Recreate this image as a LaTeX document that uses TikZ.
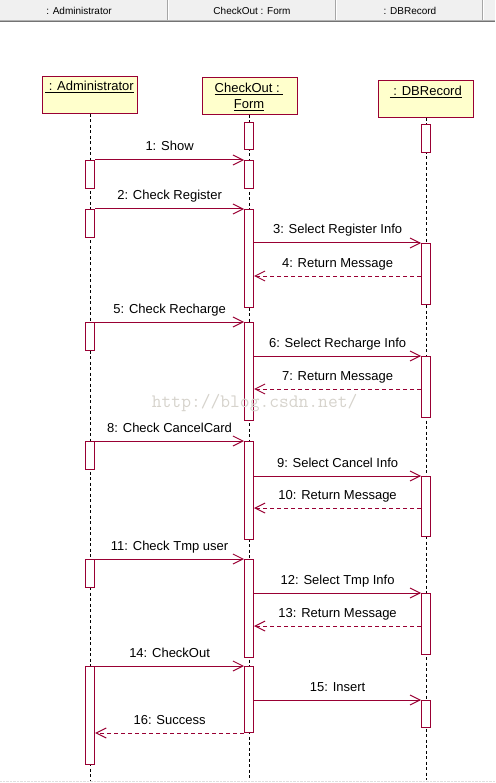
\documentclass[tikz,border=0pt]{standalone}
\usepackage{fontspec}
\setmainfont{Liberation Sans}
\usetikzlibrary{arrows.meta}
\definecolor{rose}{RGB}{153,0,51}
\definecolor{headfill}{RGB}{255,255,204}
\definecolor{barfill}{RGB}{240,240,240}
\definecolor{wm}{RGB}{214,211,204}
\newcommand\actbox[4]{\node[act, minimum height=#4pt] (#1) at (#2,#3) {};}
\begin{document}
\begin{tikzpicture}[x=1pt,y=-1pt,
  lbl/.style={font=\fontsize{13}{15.6}\selectfont, inner sep=0pt, anchor=base},
  hdr/.style={font=\fontsize{10}{12}\selectfont, inner sep=0pt, anchor=center},
  head/.style={draw=rose, fill=headfill, line width=1pt, minimum width=95pt, minimum height=37pt, inner sep=0pt, anchor=north},
  life/.style={black, dash pattern=on 3pt off 2.5pt, line width=0.8pt},
  act/.style={draw=rose, fill=white, line width=1pt, minimum width=9pt, inner sep=0pt, anchor=north},
  msg/.style={draw=rose, line width=1pt, -{Straight Barb[length=10pt,width=10pt]}},
  ret/.style={msg, dash pattern=on 4pt off 3pt},
]
\useasboundingbox (0,0) rectangle (495,783);
% header bar
\fill[barfill] (0,0) rectangle (495,20);
\foreach \xx in {167,335,482} {
  \draw[gray!70, line width=1pt] (\xx,0) -- (\xx,20);
  \draw[white, line width=1pt] (\xx+1,0) -- (\xx+1,20);
}
\draw[gray!60, line width=0.8pt] (0,20) -- (495,20);
\draw[black!55, line width=1.2pt] (0,21.5) -- (495,21.5);
\node[hdr] (hd1) at (79,11) {: Administrator};
\node[hdr] (hd2) at (252,11) {CheckOut : Form};
\node[hdr] (hd3) at (410,11) {: DBRecord};
% bottom faint line
\draw[gray!25, densely dotted] (0,781.5) -- (495,781.5);

% lifeline heads
\node[head] (hA) at (89.5,76) {};
\node[head] (hC) at (249.5,77) {};
\node[head] (hD) at (425.8,80) {};
\node[lbl] (tA) at (89.5,91) {\underline{\ : Administrator}};
\node[lbl] (tC1) at (249,92.7) {\underline{CheckOut :\ }};
\node[lbl] (tC2) at (249,108.3) {\underline{Form}};
\node[lbl] (tD) at (425.8,96) {\underline{\ : DBRecord}};

% lifelines
\coordinate (eA) at (90.2,780);
\coordinate (eC) at (249,780);
\coordinate (eD) at (426.2,780);
\draw[life] (hA.south -| eA) -- (eA);
\draw[life] (hC.south -| eC) -- (eC);
\draw[life] (hD.south -| eD) -- (eD);

% activation boxes
\actbox{c0}{249}{122}{27}
\actbox{d0}{426.2}{124}{28}
\actbox{a1}{90.2}{160}{28}
\actbox{c1}{249}{160}{28}
\actbox{a2}{90.2}{209}{28}
\actbox{c2}{249}{209}{98}
\actbox{d2}{426.2}{243}{61}
\actbox{a5}{90.2}{322}{28}
\actbox{c5}{249}{322}{98}
\actbox{d5}{426.2}{356}{61}
\actbox{a8}{90.2}{441}{28}
\actbox{c8}{249}{441}{98}
\actbox{d8}{426.2}{476}{60}
\actbox{a11}{90.2}{559}{28}
\actbox{c11}{249}{559}{98}
\actbox{d11}{426.2}{593}{61}
\actbox{a14}{90.2}{666}{98}
\actbox{c14}{249}{666}{66}
\actbox{d14}{426.2}{700}{27}

% messages
\draw[msg] (a1.north east) -- (c1.north west);
\node[lbl] (m1) at (169.6,151) {1: Show};
\draw[msg] (a2.north east) -- (c2.north west);
\node[lbl] (m2) at (169.6,200) {2: Check Register};
\draw[msg] (c2.east |- d2.north) -- (d2.north west);
\node[lbl] (m3) at (337.6,234) {3: Select Register Info};
\draw[ret] (d2.west |- 0,276) -- (c2.east |- 0,276);
\node[lbl] (m4) at (337.6,267) {4: Return Message};

\draw[msg] (a5.north east) -- (c5.north west);
\node[lbl] (m5) at (169.6,313) {5: Check Recharge};
\draw[msg] (c5.east |- d5.north) -- (d5.north west);
\node[lbl] (m6) at (337.6,347) {6: Select Recharge Info};
\draw[ret] (d5.west |- 0,389) -- (c5.east |- 0,389);
\node[lbl] (m7) at (337.6,380) {7: Return Message};

\draw[msg] (a8.north east) -- (c8.north west);
\node[lbl] (m8) at (169.6,432) {8: Check CancelCard};
\draw[msg] (c8.east |- d8.north) -- (d8.north west);
\node[lbl] (m9) at (337.6,467) {9: Select Cancel Info};
\draw[ret] (d8.west |- 0,508) -- (c8.east |- 0,508);
\node[lbl] (m10) at (337.6,499) {10: Return Message};

\draw[msg] (a11.north east) -- (c11.north west);
\node[lbl] (m11) at (169.6,550) {11: Check Tmp user};
\draw[msg] (c11.east |- d11.north) -- (d11.north west);
\node[lbl] (m12) at (337.6,584) {12: Select Tmp Info};
\draw[ret] (d11.west |- 0,626) -- (c11.east |- 0,626);
\node[lbl] (m13) at (337.6,617) {13: Return Message};

\draw[msg] (a14.north east) -- (c14.north west);
\node[lbl] (m14) at (169.6,657) {14: CheckOut};
\draw[msg] (c14.east |- d14.north) -- (d14.north west);
\node[lbl] (m15) at (337.6,691) {15: Insert};
\draw[ret] (c14.south west) -- (a14.east |- c14.south);
\node[lbl] (m16) at (169.6,724) {16: Success};

% watermark
\node[font=\fontsize{19}{19}\selectfont\ttfamily, text=wm, anchor=base west, inner sep=0pt] (wmk) at (151.7,407) {http://blog.csdn.net/};
\end{tikzpicture}
\end{document}
